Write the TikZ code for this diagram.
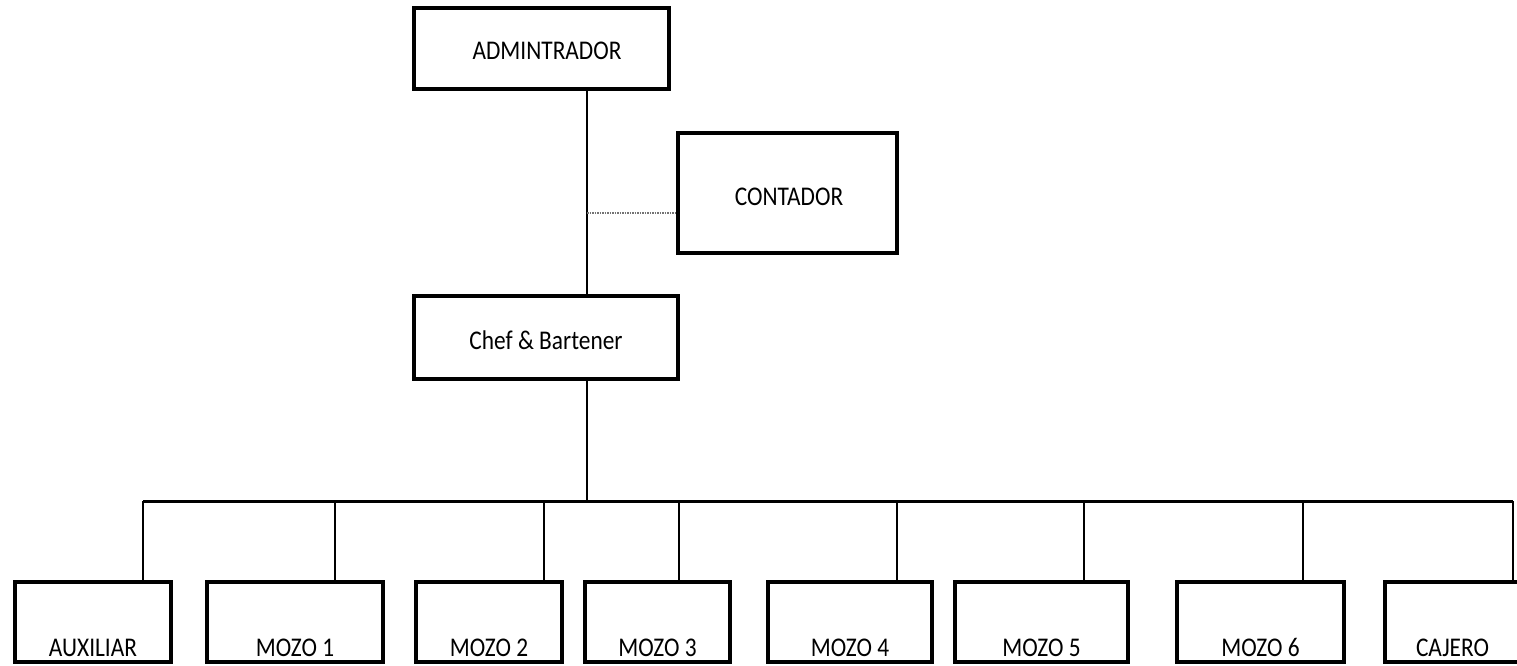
\documentclass[tikz,border=0pt]{standalone}
\usepackage{fontspec}
\setmainfont{Carlito}[FakeStretch=0.865]
\begin{document}
\begin{tikzpicture}[x=1pt,y=-1pt,
  box/.style={draw=black, line width=4.5pt, fill=white, inner sep=0pt},
  txt/.style={inner sep=0pt, font=\fontsize{27}{31}\selectfont},
  link/.style={draw=black, line width=2pt},
  bus/.style={draw=black, line width=3pt},
  side/.style={draw=black!55, line width=1.5pt, densely dotted},
  lab/.style={anchor=south, inner sep=0pt, yshift=7pt, font=\fontsize{27}{31}\selectfont}]
\useasboundingbox (0,0) rectangle (1517,665);
% top nodes
\node[box, minimum width=255pt, minimum height=81pt] (admin) at (541.5,48.5) {};
\node[txt] (admint) at (547,51) {ADMINTRADOR};
\node[box, minimum width=219pt, minimum height=120pt] (cont) at (787.5,193) {};
\node[txt] (contt) at (789,197) {CONTADOR};
\node[box, minimum width=264pt, minimum height=83pt] (chef) at (546,337.5) {};
\node[txt] (cheft) at (546,340) {Chef \& Bartener};
% trunk coordinates
\coordinate (trunk) at (587,0);
\coordinate (cj) at (587,213);
\coordinate (busc) at (587,501);
\coordinate (busl) at (143,501);
\coordinate (busr) at (1513,501);
% bottom boxes
\foreach \n/\cx/\w/\t in {aux/93/156/AUXILIAR, m1/295/176/MOZO 1, m2/489/146/MOZO 2, m3/657.5/145/MOZO 3, m4/850/164/MOZO 4, m5/1041.5/173/MOZO 5, m6/1260.5/167/MOZO 6, caj/1452.5/135/CAJERO}{
  \node[box, minimum width=\w pt, minimum height=80pt,
        label={[lab]south:\t}] (\n) at (\cx,622) {};
}
% connectors
\draw[link] (admin.south -| trunk) -- (chef.north -| trunk);
\draw[side] (cj) -- (cj -| cont.west);
\draw[link] (chef.south -| trunk) -- (busc);
\draw[bus] (busl) -- (busr);
\foreach \n/\dx in {aux/143, m1/335, m2/544, m3/679, m4/897, m5/1084, m6/1303, caj/1513}{
  \coordinate (d\n) at (\dx,501);
  \draw[link] (d\n) -- (\n.north -| d\n);
}
\end{tikzpicture}
\end{document}
